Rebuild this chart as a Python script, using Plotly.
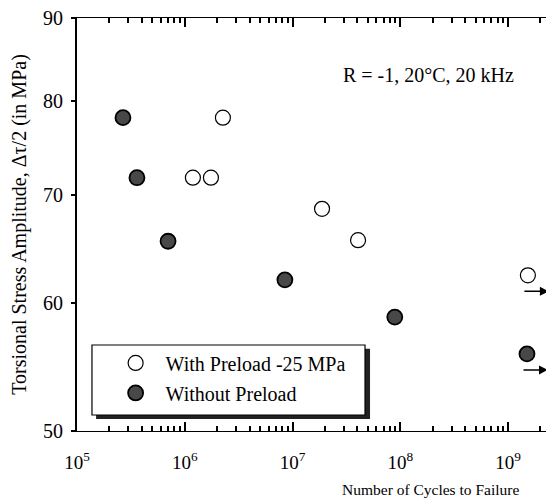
import math
import plotly.graph_objects as go

# ---- data ----
x_with = [2.26e6, 1.19e6, 1.75e6, 1.88e7, 4.06e7, 1.53e9]
y_with = [78.1, 71.7, 71.7, 68.6, 65.6, 62.4]
runout_with = [False, False, False, False, False, True]

x_without = [2.67e5, 3.6e5, 7.0e5, 8.5e6, 8.9e7, 1.5e9]
y_without = [78.1, 71.7, 65.5, 62.0, 58.8, 55.8]
runout_without = [False, False, False, False, False, True]

x_tickvals = [1e5, 1e6, 1e7, 1e8, 1e9]
x_ticktext = ["10<sup>5</sup>", "10<sup>6</sup>", "10<sup>7</sup>", "10<sup>8</sup>", "10<sup>9</sup>"]
y_tickvals = [50, 60, 70, 80, 90]
y_ticktext = ["50", "60", "70", "80", "90"]

name_with = "With Preload -25 MPa"
name_without = "Without Preload"
note_text = "R = -1, 20°C, 20 kHz"
x_title = "Number of Cycles to Failure"
y_title = "Torsional Stress Amplitude, Δτ/2 (in MPa)"

FONT = "Liberation Serif"

x_range = [5, 9.427]
y_range = [math.log10(49.999), math.log10(90.001)]
minor_x = [m * 10 ** d for d in range(5, 10) for m in range(2, 10)]

fig = go.Figure()
fig.add_trace(go.Scatter(
    x=x_with, y=y_with, mode="markers", name=name_with, legendgroup="a",
    marker=dict(symbol="circle", size=15, color="white", line=dict(color="black", width=1.2)),
))
fig.add_trace(go.Scatter(
    x=x_without, y=y_without, mode="markers", name=name_without, legendgroup="b",
    marker=dict(symbol="circle", size=15, color="#484848", line=dict(color="black", width=1.8)),
))
# invisible copy bound to the companion axis so that its minor ticks get drawn
fig.add_trace(go.Scatter(
    x=x_with, y=y_with, xaxis="x2", yaxis="y", mode="markers", showlegend=False,
    hoverinfo="skip", marker=dict(size=1, opacity=0),
))

# run-out arrows (annotation positions on log axes are given in log10 units)
for xs, ys, ro in ((x_with, y_with, runout_with), (x_without, y_without, runout_without)):
    for xv, yv, r in zip(xs, ys, ro):
        if r:
            fig.add_annotation(x=math.log10(xv), y=math.log10(yv), xref="x", yref="y", text="",
                               showarrow=True, ax=-26, ay=0, xshift=21, yshift=-16,
                               arrowhead=2, arrowsize=1.2, arrowwidth=1.5, arrowcolor="black")

fig.add_annotation(xref="paper", yref="paper", x=0.737, y=0.863, text=note_text, showarrow=False,
                   font=dict(family=FONT, size=20, color="black"), xanchor="center", yanchor="middle")
fig.add_annotation(xref="paper", yref="paper", x=0.742, y=-0.142, text=x_title, showarrow=False,
                   font=dict(family=FONT, size=15.5, color="black"), xanchor="center", yanchor="middle")

# legend frame with shadow
fig.add_shape(type="rect", xref="paper", yref="paper", x0=0.040, x1=0.6143, y0=0.029, y1=0.199,
              fillcolor="#222222", line=dict(width=0), layer="above")
fig.add_shape(type="rect", xref="paper", yref="paper", x0=0.0314, x1=0.6038, y0=0.0387, y1=0.2082,
              fillcolor="white", line=dict(color="black", width=1.2), layer="above")

fig.update_layout(
    width=546, height=496,
    margin=dict(l=69, r=0, t=10, b=73),
    paper_bgcolor="white", plot_bgcolor="white",
    font=dict(family=FONT, size=18, color="black"),
    showlegend=True,
    legend=dict(x=0.06, y=0.212, xanchor="left", yanchor="top", bgcolor="rgba(0,0,0,0)",
                borderwidth=0, font=dict(family=FONT, size=20, color="black"),
                itemwidth=50, tracegroupgap=1),
    xaxis=dict(type="log", range=x_range, tickmode="array", tickvals=x_tickvals, ticktext=x_ticktext,
               ticks="inside", ticklen=9, tickwidth=2, tickcolor="black",
               showline=True, linecolor="black", linewidth=1.3, mirror="ticks",
               showgrid=False, zeroline=False, ticklabelstandoff=14,
               tickfont=dict(family=FONT, size=19, color="black")),
    # companion axis carrying the minor (2..9) log ticks, bottom and top
    xaxis2=dict(type="log", range=x_range, overlaying="x", anchor="y", side="bottom",
                tickmode="array", tickvals=minor_x, showticklabels=False,
                ticks="inside", ticklen=5, tickwidth=1.6, tickcolor="black",
                showline=False, mirror="ticks", showgrid=False, zeroline=False),
    yaxis=dict(type="log", range=y_range, tickmode="array", tickvals=y_tickvals, ticktext=y_ticktext,
               ticks="outside", ticklen=4, tickwidth=1.5, tickcolor="black",
               showline=True, linecolor="black", linewidth=1.8, mirror=False,
               showgrid=False, zeroline=False, ticklabelstandoff=4, ticklabeloverflow="allow",
               tickfont=dict(family=FONT, size=20, color="black"),
               title=dict(text=y_title, font=dict(family=FONT, size=20, color="black"), standoff=13)),
)

fig.write_html("out.html")
